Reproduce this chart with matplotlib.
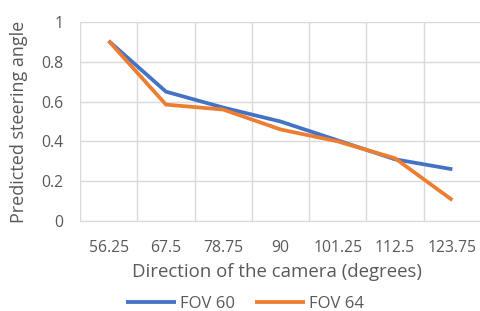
import matplotlib
matplotlib.use("Agg")
import matplotlib.pyplot as plt
import numpy as np

categories = ["56.25", "67.5", "78.75", "90", "101.25", "112.5", "123.75"]
fov60 = [0.905, 0.65, 0.57, 0.50, 0.405, 0.31, 0.26]
fov64 = [0.905, 0.585, 0.56, 0.46, 0.40, 0.315, 0.105]
series_names = ["FOV 60", "FOV 64"]
yticks = [0, 0.2, 0.4, 0.6, 0.8, 1]
ytick_labels = ["0", "0.2", "0.4", "0.6", "0.8", "1"]

plt.rcParams['font.family'] = ['Open Sans', 'DejaVu Sans']
txt = '#595959'
grid = '#d9d9d9'

fig = plt.figure(figsize=(4.81, 3.11), dpi=100)
ax = fig.add_axes([80/481, 1-221/311, 1-80/481, (221-22)/311])

x = np.arange(len(categories))
ax.plot(x, fov60, color='#4472c4', lw=2.7, label=series_names[0], solid_capstyle='butt', zorder=3)
ax.plot(x, fov64, color='#ed7d31', lw=2.7, label=series_names[1], solid_capstyle='butt', zorder=4)

ax.set_xlim(-0.5, len(categories) - 0.5)
ax.set_ylim(0, 1)
ax.set_xticks(x)
ax.set_xticklabels(categories)
ax.set_xticks(np.arange(-0.5, len(categories)), minor=True)
ax.set_yticks(yticks)
ax.set_yticklabels(ytick_labels)
ax.grid(True, which='minor', axis='x', color=grid, lw=1)
ax.grid(True, which='major', axis='y', color=grid, lw=1)
ax.tick_params(axis='both', which='both', length=0, colors=txt, labelsize=11.3)
ax.tick_params(axis='y', pad=12)
ax.tick_params(axis='x', pad=14)
for s in ['top', 'right', 'left']:
    ax.spines[s].set_visible(False)
ax.spines['bottom'].set_color(grid)
ax.set_axisbelow(True)

ax.set_ylabel("Predicted steering angle", color=txt, fontsize=13)
ax.set_xlabel("Direction of the camera (degrees)", color=txt, fontsize=13.4)
ax.yaxis.set_label_coords(-0.13, 0.5)
ax.xaxis.set_label_coords(0.49, -0.21)

leg = fig.legend(loc='center', bbox_to_anchor=(0.51, 1-304/311), ncol=2, frameon=False,
                 fontsize=12, handlelength=3.0, handletextpad=0.25, columnspacing=1.2,
                 labelcolor=txt)

fig.savefig("out.png", dpi=100)
